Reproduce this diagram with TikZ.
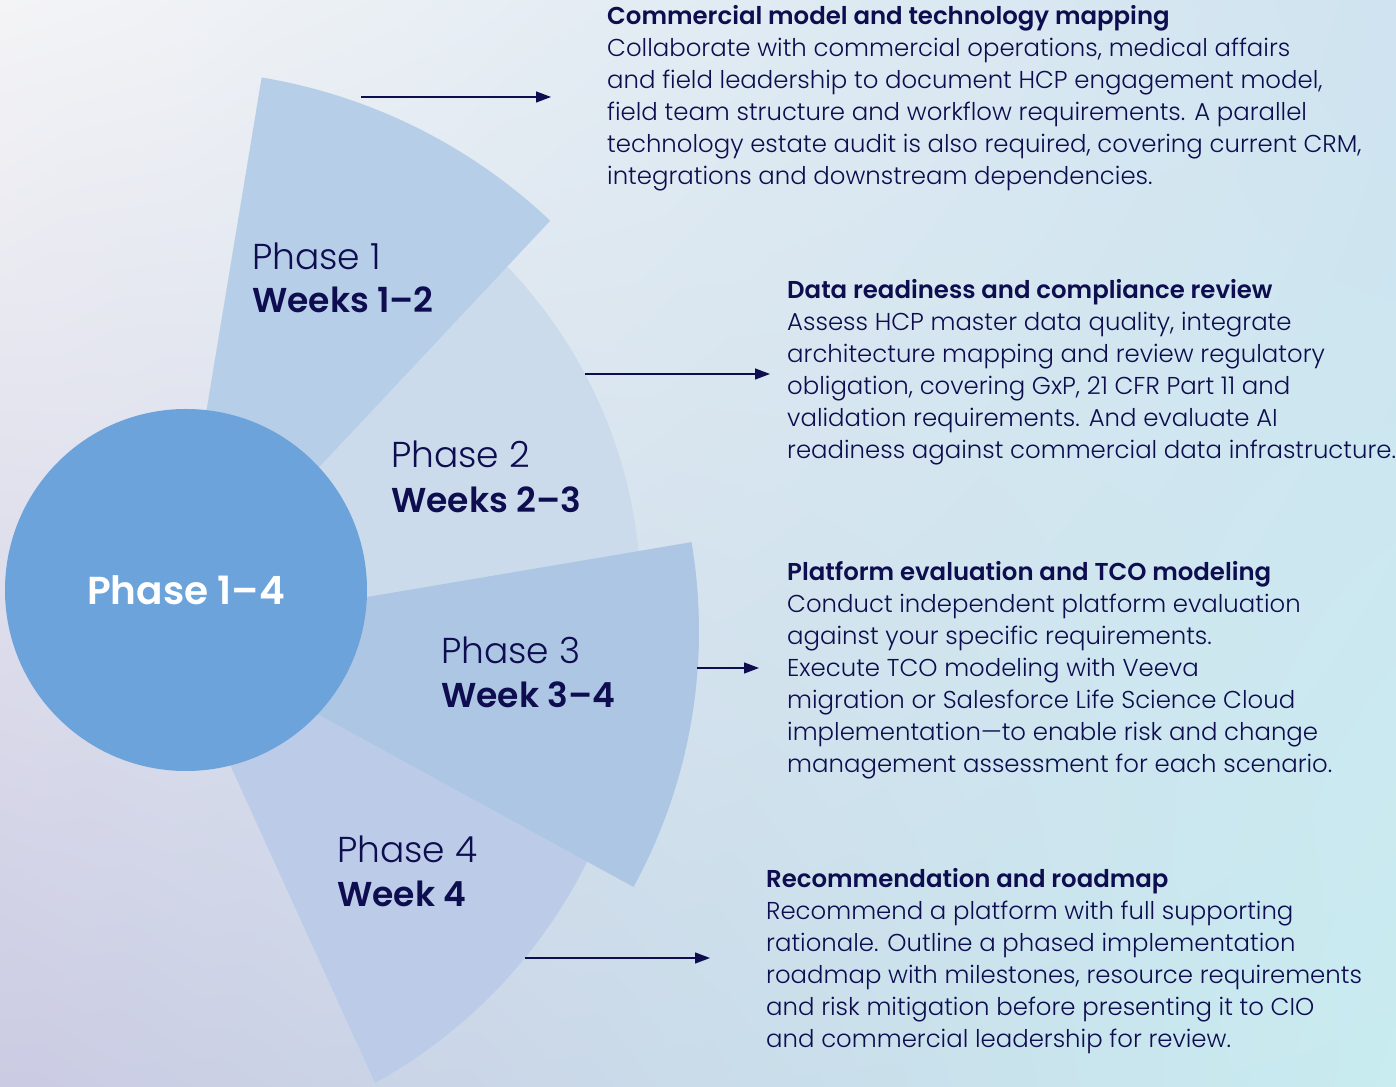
\documentclass[tikz,border=0pt]{standalone}
\usepackage{fontspec}
\IfFontExistsTF{Poppins Light}
  {\IfFontExistsTF{Poppins SemiBold}
     {\setmainfont{Poppins Light}[BoldFont={Poppins SemiBold}]}
     {\setmainfont{Poppins Light}[BoldFont={Poppins Bold}]}}
  {\setmainfont{Poppins}}
\usetikzlibrary{positioning, arrows.meta, shadings}

\definecolor{navy}{HTML}{0D0D4F}
\definecolor{hubblue}{HTML}{6BA3DA}
\definecolor{phaseA}{HTML}{B7CEE8}
\definecolor{phaseB}{HTML}{CBDBEC}
\definecolor{phaseC}{HTML}{ADC6E4}
\definecolor{phaseD}{HTML}{BCCCE8}
\definecolor{bgTL}{HTML}{F4F4F6}
\definecolor{bgTR}{HTML}{CFE3F0}
\definecolor{bgBL}{HTML}{CBCBE3}
\definecolor{bgBR}{HTML}{C8ECF0}

\begin{document}
\begin{tikzpicture}[
  x=1pt, y=1pt,
  hub/.style    = {circle, fill=hubblue, minimum size=362pt, inner sep=0pt,
                   text=white, font=\fontsize{39}{46}\selectfont\bfseries},
  phase/.style  = {anchor=base west, inner sep=0pt, text=navy,
                   font=\fontsize{36}{44}\selectfont},
  weeks/.style  = {phase, font=\fontsize{34.5}{42}\selectfont\bfseries},
  detail/.style = {anchor=base west, inner sep=0pt, align=left, text=navy,
                   font=\fontsize{24.4}{32}\selectfont},
  link/.style   = {draw=navy, line width=1.3pt,
                   -{Triangle[length=15pt, width=11pt]}},
]
% Background
\shade[upper left=bgTL, upper right=bgTR, lower left=bgBL, lower right=bgBR]
  (0,0) rectangle (1396,1086);
\useasboundingbox (0,0) rectangle (1396,1086);
% Sectors, back to front
\fill[phaseB] (161,487) -- ++(-5:480pt)
  arc[start angle=-5, end angle=60, radius=480pt] -- cycle;
\fill[phaseD] (169,455) -- (375,3)
  arc[start angle=-61.05, end angle=-20, radius=516.5pt] -- cycle;
\fill[phaseA] (171,461) -- ++(80.6:555pt)
  arc[start angle=80.6, end angle=46.6, radius=551pt] -- cycle;
\fill[phaseC] (166,455) -- ++(-28.7:533pt)
  arc[start angle=-28.7, end angle=9.6, radius=533pt] -- cycle;
% Hub
\node[hub] (hub) at (186,496) {Phase 1--4};
% Phase labels
\node[phase] (ph1) at (252,816) {Phase 1};
\node[weeks] (wk1) at ([yshift=-43pt]ph1.base west) {Weeks 1--2};
\node[phase] (ph2) at (391,618) {Phase 2};
\node[weeks] (wk2) at ([yshift=-45pt]ph2.base west) {Weeks 2--3};
\node[phase] (ph3) at (441,422) {Phase 3};
\node[weeks] (wk3) at ([yshift=-44pt]ph3.base west) {Week 3--4};
\node[phase] (ph4) at (337,223) {Phase 4};
\node[weeks] (wk4) at ([yshift=-44pt]ph4.base west) {Week 4};
% Details (anchored on the baseline of the last line)
\node[detail] (d1) at (607,901) {\textbf{Commercial model and technology mapping}\\
  Collaborate with commercial operations, medical affairs\\
  and field leadership to document HCP engagement model,\\
  field team structure and workflow requirements. A parallel\\
  technology estate audit is also required, covering current CRM,\\
  integrations and downstream dependencies.};
\node[detail] (d2) at (787,627) {\textbf{Data readiness and compliance review}\\
  Assess HCP master data quality, integrate\\
  architecture mapping and review regulatory\\
  obligation, covering GxP, 21 CFR Part 11 and\\
  validation requirements. And evaluate AI\\
  readiness against commercial data infrastructure.};
\node[detail] (d3) at (787,313) {\textbf{Platform evaluation and TCO modeling}\\
  Conduct independent platform evaluation\\
  against your specific requirements.\\
  Execute TCO modeling with Veeva\\
  migration or Salesforce Life Science Cloud\\
  implementation---to enable risk and change\\
  management assessment for each scenario.};
\node[detail] (d4) at (766,38) {\textbf{Recommendation and roadmap}\\
  Recommend a platform with full supporting\\
  rationale. Outline a phased implementation\\
  roadmap with milestones, resource requirements\\
  and risk mitigation before presenting it to CIO\\
  and commercial leadership for review.};
% Arrows
\coordinate (s1) at (361,989);
\coordinate (e1) at (551,989);
\coordinate (s2) at (585,712);
\coordinate (e2) at (770,712);
\coordinate (s3) at (697,418);
\coordinate (e3) at (759,418);
\coordinate (s4) at (525,128);
\coordinate (e4) at (710,128);
\draw[link] (s1) -- (e1);
\draw[link] (s2) -- (e2);
\draw[link] (s3) -- (e3);
\draw[link] (s4) -- (e4);
\end{tikzpicture}
\end{document}
